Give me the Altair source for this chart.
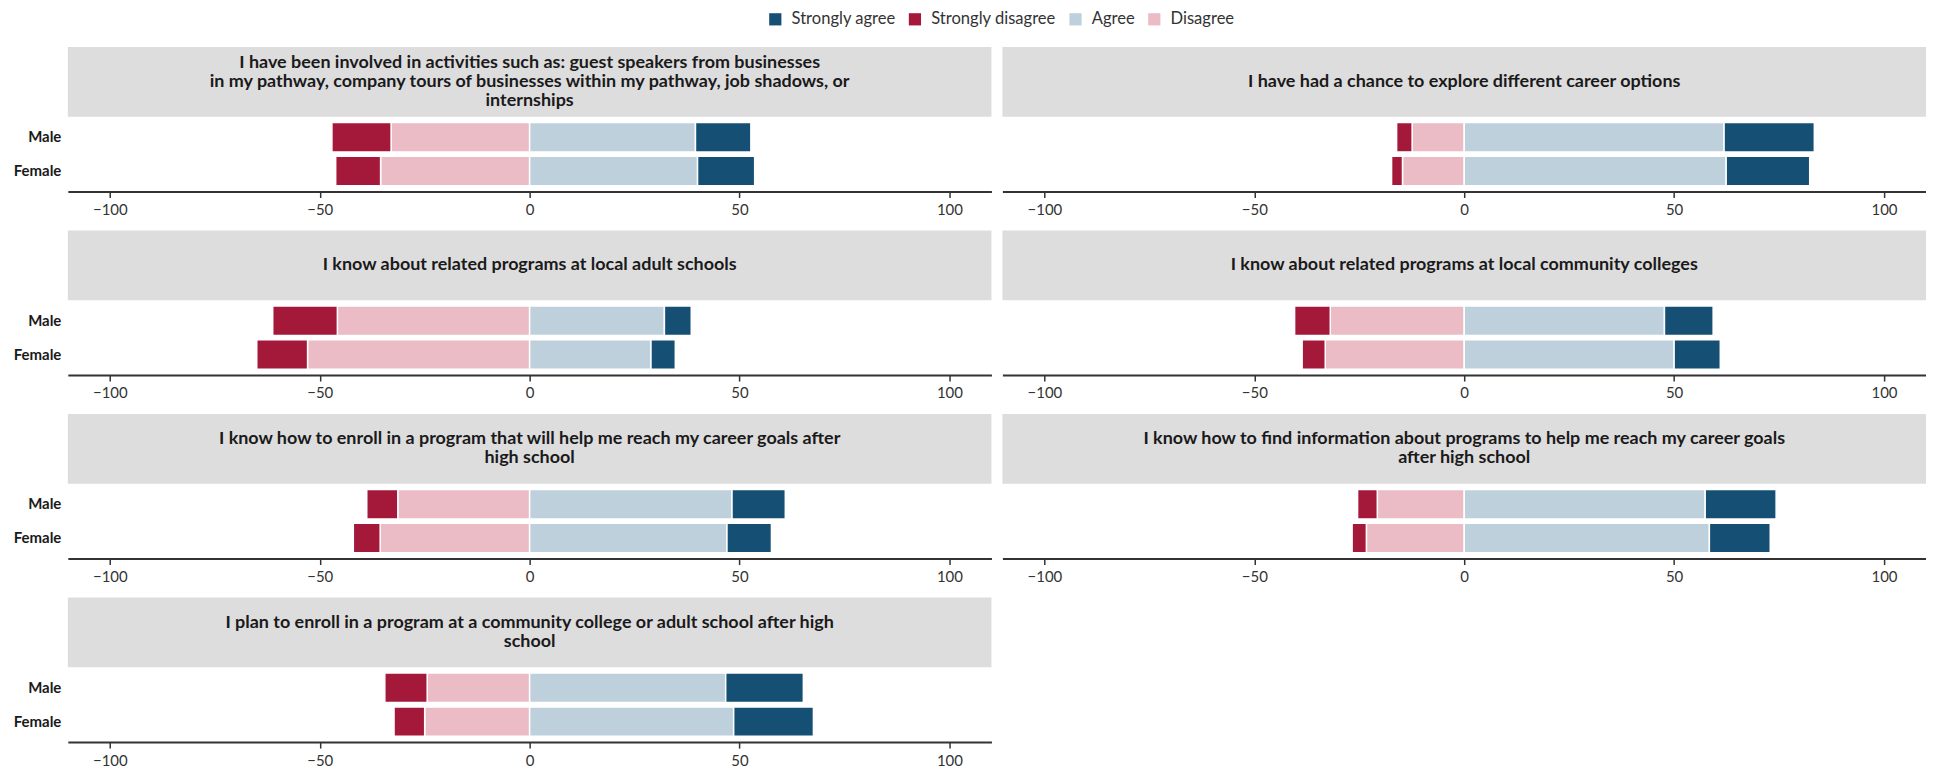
import altair as alt
import pandas as pd

questions = [
    "I have been involved in activities such as: guest speakers from businesses\nin my pathway, company tours of businesses within my pathway, job shadows, or\ninternships",
    "I have had a chance to explore different career options",
    "I know about related programs at local adult schools",
    "I know about related programs at local community colleges",
    "I know how to enroll in a program that will help me reach my career goals after\nhigh school",
    "I know how to find information about programs to help me reach my career goals\nafter high school",
    "I plan to enroll in a program at a community college or adult school after high\nschool",
]
genders = ["Male", "Female"]
levels = ["Strongly agree", "Strongly disagree", "Agree", "Disagree"]
level_colors = ["#154F74", "#A4193A", "#BDD0DC", "#EBBBC6"]

# percentages per question (in order of `questions`)
male_sd = [14.1, 3.7, 15.4, 8.5, 7.4, 4.7, 10.1]
male_d = [33.0, 12.4, 45.8, 31.9, 31.4, 20.7, 24.4]
male_a = [39.5, 61.9, 32.1, 47.7, 48.2, 57.4, 46.7]
male_sa = [13.2, 21.5, 6.4, 11.6, 12.7, 16.9, 18.5]
female_sd = [10.7, 2.6, 12.1, 5.5, 6.4, 3.4, 7.3]
female_d = [35.5, 14.7, 52.9, 33.1, 35.6, 23.3, 25.0]
female_a = [40.0, 62.4, 28.9, 50.0, 47.0, 58.4, 48.6]
female_sa = [13.6, 19.9, 5.8, 11.0, 10.6, 14.5, 19.0]

x_ticks = [-100, -50, 0, 50, 100]

series = {
    "Male": (male_sd, male_d, male_a, male_sa),
    "Female": (female_sd, female_d, female_a, female_sa),
}
recs = []
for qi in range(len(questions)):
    for g in genders:
        sd, d, a, sa = (s[qi] for s in series[g])
        recs.append(dict(q=qi, gender=g, level="Disagree", start=-d, end=0))
        recs.append(dict(q=qi, gender=g, level="Strongly disagree", start=-d - sd, end=-d))
        recs.append(dict(q=qi, gender=g, level="Agree", start=0, end=a))
        recs.append(dict(q=qi, gender=g, level="Strongly agree", start=a, end=a + sa))
df = pd.DataFrame(recs)

PW, SH, PH = 926, 70, 75
STRIP = "#DEDDDE"
TFS, TLH = 18, 19


def panel(i, show_y):
    title = questions[i]
    n_lines = title.count("\n") + 1
    top_y = SH / 2 - n_lines * TLH / 2 + (TLH - TFS) / 2
    sdf = pd.DataFrame({"title": [title]})
    base = alt.Chart(sdf)
    rect = base.mark_rect(color=STRIP).encode(
        x=alt.value(0), x2=alt.value(PW), y=alt.value(0), y2=alt.value(SH)
    )
    txt = base.mark_text(
        font="Lato", fontSize=TFS, fontWeight="bold", lineBreak="\n", lineHeight=TLH,
        align="center", baseline="top", color="#1a1a1a",
    ).encode(x=alt.value(PW / 2), y=alt.value(top_y), text="title:N")
    strip = alt.layer(rect, txt).properties(width=PW, height=SH)

    yaxis = alt.Axis(
        labelFontSize=15, labelFontWeight="bold", labelColor="#1a1a1a", labelFont="Lato",
        ticks=False, domain=False, labelPadding=7, title=None,
    ) if show_y else None
    bars = alt.Chart(df[df.q == i]).mark_bar(stroke="white", strokeWidth=1.5).encode(
        x=alt.X("start:Q", scale=alt.Scale(domain=[-110, 110], nice=False, zero=False),
                axis=alt.Axis(values=x_ticks, title=None, labelFontSize=15, labelFont="Lato",
                              labelColor="#333333", domainColor="#333333", domainWidth=2,
                              tickColor="#333333", tickWidth=1.5, tickSize=6, labelPadding=5,
                              grid=False, format="d", labelFlush=False)),
        x2="end:Q",
        y=alt.Y("gender:N", sort=genders, axis=yaxis,
                scale=alt.Scale(domain=genders, paddingInner=0.13, paddingOuter=0.17)),
        color=alt.Color("level:N", scale=alt.Scale(domain=levels, range=level_colors),
                        legend=alt.Legend(title=None, orient="none", direction="horizontal",
                                          legendX=701, legendY=-36)),
    ).properties(width=PW, height=PH)
    return alt.vconcat(strip, bars, spacing=0, bounds="flush")


rows = []
for r in range(4):
    left = panel(2 * r, True)
    if 2 * r + 1 < len(questions):
        rows.append(alt.hconcat(left, panel(2 * r + 1, False), spacing=11))
    else:
        rows.append(alt.hconcat(left, spacing=11))

chart = alt.vconcat(*rows, spacing=13).properties(
    padding={"left": 5, "top": 2, "right": 0, "bottom": 5}
).configure_view(stroke=None).configure_legend(
    symbolType="square", symbolSize=150, symbolStrokeWidth=0, labelFontSize=16.6,
    labelFont="Lato", labelColor="#333333", labelOffset=8, columnPadding=11, padding=0,
).configure_axis(grid=False)

chart.save("out.html", embed_options={"renderer": "svg", "actions": False})
